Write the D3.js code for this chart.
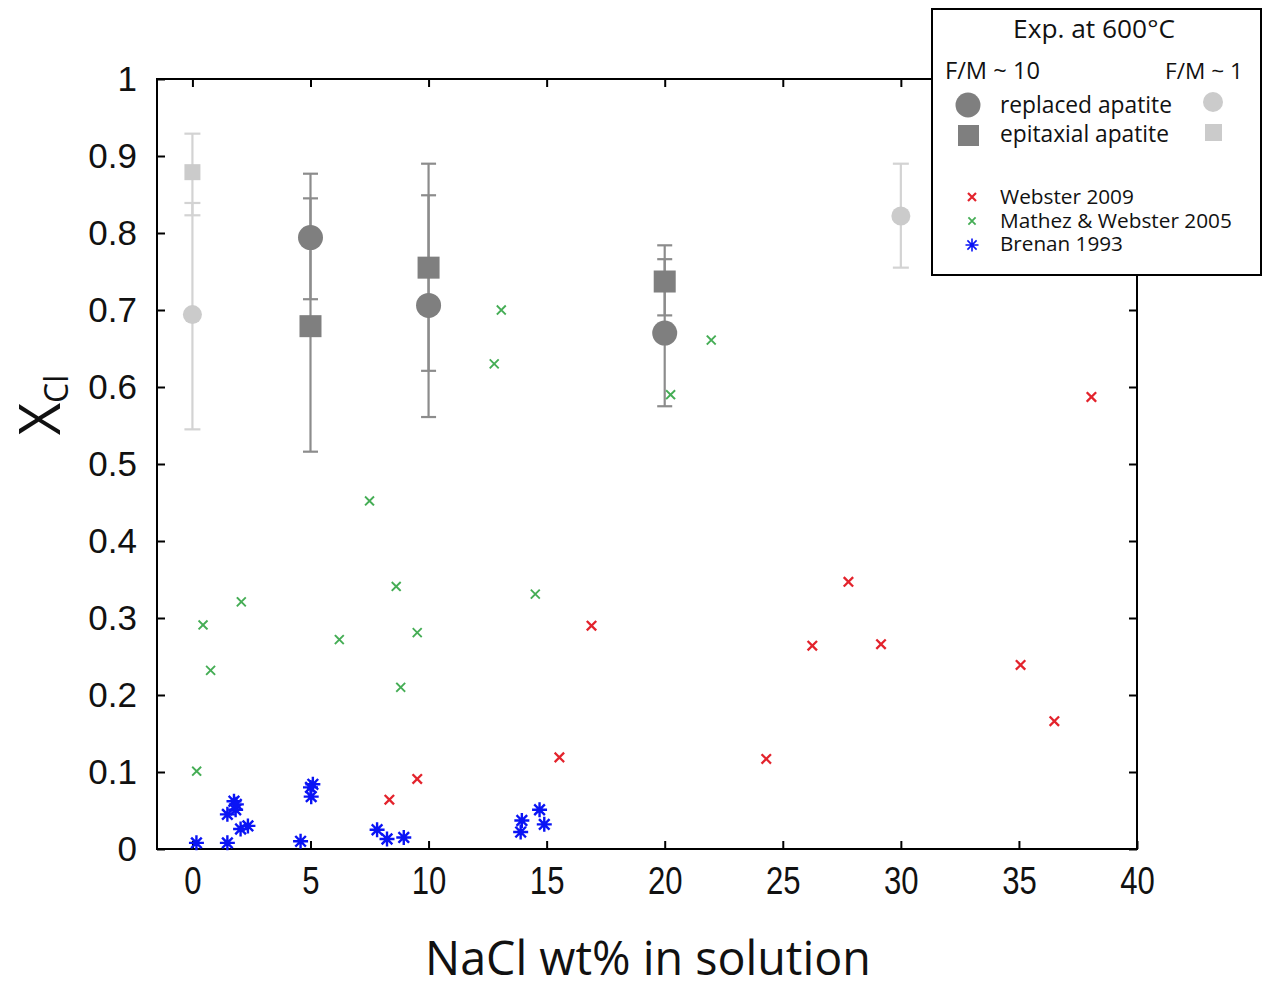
<!DOCTYPE html>
<html>
<head>
<meta charset="utf-8">
<script src="https://cdn.jsdelivr.net/npm/d3@7"></script>
<style>
  body { margin: 0; background: #fff; }
  svg { display: block; }
</style>
</head>
<body>
<svg id="chart" width="1268" height="990"></svg>
<script>
// experiments at 600°C, F/M ~ 10 (dark) and F/M ~ 1 (light)
const replaced10 = [
  { x: 5, y: 0.794, lo: 0.714, hi: 0.877 },
  { x: 10, y: 0.706, lo: 0.561, hi: 0.849 },
  { x: 20, y: 0.670, lo: 0.575, hi: 0.766 },
];
const epitaxial10 = [
  { x: 5, y: 0.679, lo: 0.516, hi: 0.845 },
  { x: 10, y: 0.755, lo: 0.621, hi: 0.890 },
  { x: 20, y: 0.737, lo: 0.693, hi: 0.784 },
];
const replaced1 = [
  { x: 0, y: 0.694, lo: 0.545, hi: 0.839 },
  { x: 30, y: 0.822, lo: 0.755, hi: 0.890 },
];
const epitaxial1 = [{ x: 0, y: 0.879, lo: 0.823, hi: 0.929 }];

// literature data
const webster2009 = [
  [8.34, 0.064], [9.52, 0.091], [15.54, 0.119], [16.9, 0.290], [24.3, 0.117],
  [26.25, 0.264], [27.78, 0.347], [29.16, 0.266], [35.07, 0.239], [36.5, 0.166],
  [38.07, 0.587],
];
const mathez2005 = [
  [0.18, 0.101], [0.45, 0.291], [0.77, 0.232], [2.07, 0.321], [6.22, 0.272],
  [7.5, 0.452], [8.63, 0.341], [8.82, 0.210], [9.52, 0.281], [12.78, 0.630],
  [13.08, 0.700], [14.52, 0.331], [20.25, 0.590], [21.97, 0.661],
];
const brenan1993 = [
  [0.17, 0.008], [1.48, 0.008], [1.48, 0.045], [1.83, 0.051], [1.76, 0.062],
  [1.86, 0.058], [2.04, 0.026], [2.35, 0.030], [4.58, 0.010], [5.1, 0.084],
  [5.0, 0.080], [5.03, 0.068], [7.82, 0.025], [8.24, 0.013], [8.95, 0.015],
  [13.9, 0.022], [13.95, 0.037], [14.7, 0.051], [14.9, 0.032],
];

const xTicks = [0, 5, 10, 15, 20, 25, 30, 35, 40];
const yTicks = [0, 0.1, 0.2, 0.3, 0.4, 0.5, 0.6, 0.7, 0.8, 0.9, 1];

const DARK = '#7f7f7f';
const DARK_BAR = '#8c8c8c';
const LIGHT = '#cbcbcb';
const LIGHT_BAR = '#d3d3d3';
const RED = '#e3232c';
const GREEN = '#45ad55';
const BLUE = '#0a14f5';
const SANS = '"Open Sans", "Noto Sans", sans-serif';

const svg = d3.select('#chart');
const plotLeft = 157, plotRight = 1137, plotTop = 79, plotBottom = 849;

const x = d3.scaleLinear().domain([-1.5, 40]).range([plotLeft, plotRight]);
const y = d3.scaleLinear().domain([0, 1]).range([plotBottom, plotTop]);

// shrink or grow a text's font so that it spans the given width
function fitText(sel, width) {
  sel.each(function () {
    const size = parseFloat(this.getAttribute('font-size'));
    const w = this.getComputedTextLength();
    if (w > 0) this.setAttribute('font-size', (size * width) / w);
  });
  return sel;
}

function crossPath(s) {
  return `M${-s},${-s}L${s},${s}M${-s},${s}L${s},${-s}`;
}
function starPath(s) {
  const d = s * Math.SQRT1_2;
  return `M${-s},0L${s},0M0,${-s}L0,${s}M${-d},${-d}L${d},${d}M${-d},${d}L${d},${-d}`;
}

// axes: box with inward ticks on all four sides
svg.append('g')
  .attr('transform', `translate(0,${plotBottom})`)
  .call(d3.axisBottom(x).tickValues(xTicks).tickSize(-8).tickPadding(17))
  .call((g) => g.select('.domain').remove())
  .call((g) => g.selectAll('line').attr('stroke', '#000').attr('stroke-width', 2))
  .call((g) => g.selectAll('text')
    .attr('font-family', '"Liberation Sans", Arial, sans-serif')
    .attr('font-size', 37).attr('fill', '#111')
    .attr('transform', 'scale(0.84,1.04)'));

svg.append('g')
  .attr('transform', `translate(0,${plotTop})`)
  .call(d3.axisTop(x).tickValues(xTicks).tickSize(-8).tickFormat(''))
  .call((g) => g.select('.domain').remove())
  .call((g) => g.selectAll('line').attr('stroke', '#000').attr('stroke-width', 2));

svg.append('g')
  .attr('transform', `translate(${plotLeft},0)`)
  .call(d3.axisLeft(y).tickValues(yTicks).tickSize(-8).tickPadding(20).tickFormat(d3.format('~g')))
  .call((g) => g.select('.domain').remove())
  .call((g) => g.selectAll('line').attr('stroke', '#000').attr('stroke-width', 2))
  .call((g) => g.selectAll('text')
    .attr('font-family', '"Liberation Sans", Arial, sans-serif')
    .attr('font-size', 35).attr('fill', '#111'));

svg.append('g')
  .attr('transform', `translate(${plotRight},0)`)
  .call(d3.axisRight(y).tickValues(yTicks).tickSize(-8).tickFormat(''))
  .call((g) => g.select('.domain').remove())
  .call((g) => g.selectAll('line').attr('stroke', '#000').attr('stroke-width', 2));

svg.append('rect')
  .attr('x', plotLeft).attr('y', plotTop)
  .attr('width', plotRight - plotLeft).attr('height', plotBottom - plotTop)
  .attr('fill', 'none').attr('stroke', '#000').attr('stroke-width', 2);

// error bars
function drawBars(data, color, capW) {
  const g = svg.append('g').attr('stroke', color).attr('stroke-width', 2.2);
  g.selectAll('line.v').data(data).join('line').attr('class', 'v')
    .attr('x1', (d) => x(d.x)).attr('x2', (d) => x(d.x))
    .attr('y1', (d) => y(d.lo)).attr('y2', (d) => y(d.hi));
  g.selectAll('line.lo').data(data).join('line').attr('class', 'lo')
    .attr('x1', (d) => x(d.x) - capW / 2).attr('x2', (d) => x(d.x) + capW / 2)
    .attr('y1', (d) => y(d.lo)).attr('y2', (d) => y(d.lo));
  g.selectAll('line.hi').data(data).join('line').attr('class', 'hi')
    .attr('x1', (d) => x(d.x) - capW / 2).attr('x2', (d) => x(d.x) + capW / 2)
    .attr('y1', (d) => y(d.hi)).attr('y2', (d) => y(d.hi));
}
drawBars(replaced1, LIGHT_BAR, 16);
drawBars(epitaxial1, LIGHT_BAR, 16);
drawBars(replaced10, DARK_BAR, 15);
drawBars(epitaxial10, DARK_BAR, 15);

function drawCircles(data, color, r) {
  svg.append('g').selectAll('circle').data(data).join('circle')
    .attr('cx', (d) => x(d.x)).attr('cy', (d) => y(d.y)).attr('r', r).attr('fill', color);
}
function drawSquares(data, color, s) {
  svg.append('g').selectAll('rect').data(data).join('rect')
    .attr('x', (d) => x(d.x) - s / 2).attr('y', (d) => y(d.y) - s / 2)
    .attr('width', s).attr('height', s).attr('fill', color);
}
drawCircles(replaced1, LIGHT, 9.5);
drawSquares(epitaxial1, LIGHT, 16);
drawCircles(replaced10, DARK, 12.5);
drawSquares(epitaxial10, DARK, 22);

function drawSymbols(data, color, path, sw) {
  svg.append('g').selectAll('path').data(data).join('path')
    .attr('transform', (d) => `translate(${x(d[0])},${y(d[1])})`)
    .attr('d', path).attr('fill', 'none').attr('stroke', color)
    .attr('stroke-width', sw).attr('stroke-linecap', 'square');
}
drawSymbols(mathez2005, GREEN, crossPath(3.8), 1.9);
drawSymbols(webster2009, RED, crossPath(3.9), 2.3);
drawSymbols(brenan1993, BLUE, starPath(6.3), 2.4);

// axis titles
fitText(
  svg.append('text')
    .attr('x', 648).attr('y', 975).attr('text-anchor', 'middle')
    .attr('font-family', SANS).attr('font-size', 46).attr('fill', '#111')
    .text('NaCl wt% in solution'),
  446
);

const yl = svg.append('text')
  .attr('transform', 'translate(60,405) rotate(-90)')
  .attr('text-anchor', 'middle')
  .attr('font-family', SANS).attr('fill', '#111');
yl.append('tspan').attr('font-size', 56).text('X');
yl.append('tspan').attr('font-size', 32).attr('dy', 8).text('Cl');

// legend
const lg = svg.append('g');
lg.append('rect')
  .attr('x', 932).attr('y', 9).attr('width', 329).attr('height', 266)
  .attr('fill', '#fff').attr('stroke', '#000').attr('stroke-width', 2);

const legendText = [
  { t: 'Exp. at 600°C', x: 1094, y: 38, w: 162, anchor: 'middle' },
  { t: 'F/M ~ 10', x: 945, y: 79, w: 95, anchor: 'start' },
  { t: 'F/M ~ 1', x: 1243, y: 79, w: 78, anchor: 'end' },
  { t: 'replaced apatite', x: 1000, y: 113, w: 172, anchor: 'start' },
  { t: 'epitaxial apatite', x: 1000, y: 142, w: 169, anchor: 'start' },
  { t: 'Webster 2009', x: 1000, y: 204, w: 134, anchor: 'start' },
  { t: 'Mathez & Webster 2005', x: 1000, y: 228, w: 232, anchor: 'start' },
  { t: 'Brenan 1993', x: 1000, y: 251, w: 123, anchor: 'start' },
];
legendText.forEach((d) => {
  fitText(
    lg.append('text')
      .attr('x', d.x).attr('y', d.y).attr('text-anchor', d.anchor)
      .attr('font-family', SANS).attr('font-size', 22).attr('fill', '#111')
      .text(d.t),
    d.w
  );
});

lg.append('circle').attr('cx', 968).attr('cy', 105).attr('r', 12.5).attr('fill', DARK);
lg.append('rect').attr('x', 958).attr('y', 125).attr('width', 21).attr('height', 21).attr('fill', DARK);
lg.append('circle').attr('cx', 1213).attr('cy', 102).attr('r', 10).attr('fill', LIGHT);
lg.append('rect').attr('x', 1205).attr('y', 124).attr('width', 17).attr('height', 17).attr('fill', LIGHT);

lg.append('path').attr('transform', 'translate(972,197)').attr('d', crossPath(4))
  .attr('stroke', RED).attr('stroke-width', 2.2).attr('fill', 'none');
lg.append('path').attr('transform', 'translate(972,221)').attr('d', crossPath(3.6))
  .attr('stroke', GREEN).attr('stroke-width', 1.8).attr('fill', 'none');
lg.append('path').attr('transform', 'translate(972,245)').attr('d', starPath(6.5))
  .attr('stroke', BLUE).attr('stroke-width', 1.6).attr('fill', 'none');
</script>
</body>
</html>
